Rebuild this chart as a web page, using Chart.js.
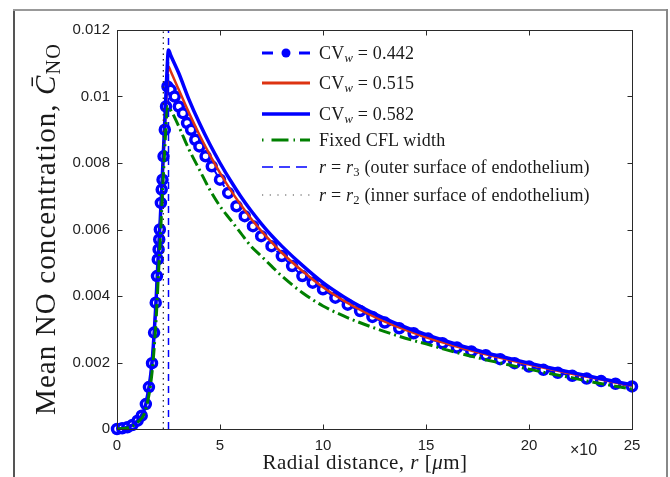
<!DOCTYPE html>
<html><head><meta charset="utf-8">
<script src="https://cdn.jsdelivr.net/npm/chart.js@4/dist/chart.umd.min.js"></script>
<style>
html,body{margin:0;padding:0;background:#fff;}
#wrap{position:relative;width:670px;height:477px;overflow:hidden;background:#fff;}
#c{position:absolute;left:0;top:0;}
.fl{position:absolute;left:13px;top:9px;width:2px;height:480px;background:#555;}
.ft{position:absolute;left:13px;top:9px;width:655px;height:2px;background:#999;}
.fr{position:absolute;left:666px;top:9px;width:2px;height:480px;background:#888;}
.serif{font-family:"Liberation Serif","Times New Roman",serif;color:#1a1a1a;}
#xt{position:absolute;left:165px;width:400px;top:452px;text-align:center;font-size:21px;line-height:21px;letter-spacing:0.5px;white-space:nowrap;}
#yt{position:absolute;width:440px;height:30px;line-height:30px;font-size:29px;letter-spacing:1.1px;text-align:center;white-space:nowrap;transform:rotate(-90deg);}
#x10{position:absolute;left:570px;top:441px;font-family:"Liberation Sans",Arial,sans-serif;font-size:16px;color:#222;}
.row{position:absolute;left:262px;height:22px;}
.row svg{position:absolute;left:0;top:5px;}
.row span{position:absolute;left:57px;top:0;line-height:22px;font-size:18px;letter-spacing:0.2px;white-space:nowrap;}
sub{font-size:70%;vertical-align:-0.25em;line-height:0;}
</style></head>
<body><div id="wrap">
<canvas id="c" width="670" height="477"></canvas>
<div class="fl"></div><div class="ft"></div><div class="fr"></div>
<div id="xt" class="serif">Radial distance, <i>r</i> [<i>μ</i>m]</div>
<div id="yt" class="serif">Mean NO concentration, <i>C&#772;</i><sub>NO</sub></div>
<div id="x10">×10</div>
<div class="row serif" style="top:42px"><svg width="48" height="12"><line x1="0" y1="6" x2="11" y2="6" stroke="#0000ff" stroke-width="3"/><circle cx="24" cy="6" r="4.5" fill="#0000ff"/><line x1="37" y1="6" x2="48" y2="6" stroke="#0000ff" stroke-width="3"/></svg><span>CV<sub><i>w</i></sub> = 0.442</span></div>
<div class="row serif" style="top:72px"><svg width="48" height="12"><line x1="0" y1="6" x2="48" y2="6" stroke="#dd3311" stroke-width="3"/></svg><span>CV<sub><i>w</i></sub> = 0.515</span></div>
<div class="row serif" style="top:103px"><svg width="48" height="12"><line x1="0" y1="6" x2="48" y2="6" stroke="#0000ff" stroke-width="3.5"/></svg><span>CV<sub><i>w</i></sub> = 0.582</span></div>
<div class="row serif" style="top:129px"><svg width="48" height="12"><line x1="0" y1="6" x2="48" y2="6" stroke="#008000" stroke-width="3" stroke-dasharray="1.5,8,17,5,1.5,5,12,0"/></svg><span>Fixed CFL width</span></div>
<div class="row serif" style="top:156px"><svg width="48" height="12"><line x1="0" y1="6" x2="48" y2="6" stroke="#0000ff" stroke-width="1.5" stroke-dasharray="11,6"/></svg><span><i>r</i> = <i>r</i><sub>3</sub> (outer surface of endothelium)</span></div>
<div class="row serif" style="top:184px"><svg width="48" height="12"><line x1="0" y1="6" x2="48" y2="6" stroke="#444" stroke-width="1.2" stroke-dasharray="1.2,6.5"/></svg><span><i>r</i> = <i>r</i><sub>2</sub> (inner surface of endothelium)</span></div>
</div>
<script>
// ---- data (x in units of 10 μm) ----
const rCirc = [0,0.25,0.5,0.75,1.0,1.2,1.4,1.55,1.7,1.8,1.88,1.94,1.98,2.02,2.05,2.08,2.13,2.17,2.21,2.26,2.32,2.38,2.45,
  2.6,2.8,3.0,3.2,3.4,3.6,3.8,4.0,4.3,4.6,5.0,5.4,5.8,6.2,6.6,7.0,7.5,8.0,8.5,9.0,9.5,10.0,10.6,11.2,11.8,12.4,13.0,13.7,14.4,
  15.1,15.8,16.5,17.2,17.9,18.6,19.3,20.0,20.7,21.4,22.1,22.8,23.5,24.2,25.0];
const cCirc = [0,0.00002,0.00005,0.00012,0.00025,0.0004,0.00075,0.00126,0.00198,0.0029,0.0038,0.0046,0.0051,0.0054,0.0057,0.006,0.0068,0.0072,0.0075,0.0082,0.009,0.0097,0.0103,
  0.0102,0.01,0.0097,0.0095,0.0092,0.009,0.0087,0.0085,0.0082,0.0079,0.0075,0.0071,0.0067,0.0064,0.0061,0.0058,0.0055,0.0052,0.0049,0.0046,0.0044,0.0042,0.00395,0.00374,0.00355,0.00337,0.0032,0.00303,0.00288,
  0.00272,0.00258,0.00245,0.00233,0.00222,0.0021,0.00198,0.00188,0.00178,0.00169,0.0016,0.00152,0.00144,0.00136,0.00128];

const rLine = [0,0.5,1.0,1.4,1.7,1.9,2.0,2.1,2.2,2.3,2.4,2.5,2.6,3,3.5,4,4.5,5,5.5,6,6.5,7,7.5,8,9,10,11,12,13,14,15,16,17,18,19,20,21,22,23,24,25];
const cRed  = [0,0.00005,0.00025,0.00075,0.002,0.0039,0.0052,0.0063,0.0075,0.0088,0.01,0.0109,0.01077,0.0102,0.0095,0.00885,0.00825,0.0077,0.0072,0.00675,0.00633,0.00596,0.00562,0.0053,0.00475,0.00426,0.00386,0.00352,0.00323,0.00298,0.00276,0.00257,0.00239,0.00223,0.00208,0.00194,0.0018,0.00167,0.00155,0.00142,0.0013];
const cBlue = [0,0.00005,0.00025,0.00075,0.002,0.0039,0.0052,0.0063,0.0076,0.009,0.0104,0.0114,0.01125,0.0107,0.0099,0.0092,0.00857,0.008,0.00748,0.007,0.00657,0.00618,0.00582,0.0055,0.00492,0.0044,0.00398,0.00362,0.00332,0.00306,0.00284,0.00264,0.00245,0.00228,0.00213,0.00198,0.00184,0.00171,0.00158,0.00145,0.00133];

const rGreen = [0,0.5,1.0,1.4,1.7,1.9,2.0,2.1,2.2,2.3,2.4,2.47,2.6,3,3.5,4,4.5,5,5.5,6,6.5,7,7.5,8,9,10,11,12,13,14,15,16,17,18,19,20,21,22,23,24,25];
const cGreen = [0,0.00003,0.0002,0.0006,0.0017,0.0033,0.0045,0.0057,0.007,0.0082,0.0093,0.0097,0.0096,0.0091,0.0084,0.0078,0.0072,0.0067,0.0063,0.0059,0.0055,0.0052,0.0049,0.0046,0.0041,0.0037,0.0034,0.00315,0.00293,0.00273,0.00256,0.00238,0.00222,0.00207,0.00193,0.0018,0.00167,0.00155,0.00142,0.00131,0.0012];

const r3 = 2.5, r2 = 2.25;
const xTicks = [0,5,10,15,20,25];
const xTickLabels = ['0','5','10','15','20','25'];
const yTicks = [0,0.002,0.004,0.006,0.008,0.01,0.012];
const yTickLabels = ['0','0.002','0.004','0.006','0.008','0.01','0.012'];

const pts = (xs, ys) => xs.map((x,i)=>({x, y: ys[i]}));

// position y-title (rotated)
(function(){const yt=document.getElementById('yt');const cx=45, cy=229;yt.style.left=(cx-220)+'px';yt.style.top=(cy-15)+'px';})();

const framePlugin = {
  id:'framePlugin',
  afterDatasetsDraw(chart){
    const {ctx, chartArea:a, scales:{x,y}} = chart;
    ctx.save();
    ctx.strokeStyle='#2a2a2a'; ctx.lineWidth=1;
    const L=Math.round(a.left)+0.5, R=Math.round(a.right)+0.5, T=Math.round(a.top)+0.5, B=Math.round(a.bottom)+0.5;
    ctx.strokeRect(L, T, R-L, B-T);
    ctx.beginPath();
    x.ticks.forEach(t=>{const p=Math.round(x.getPixelForValue(t.value))+0.5; ctx.moveTo(p,B); ctx.lineTo(p,B-5); ctx.moveTo(p,T); ctx.lineTo(p,T+5);});
    y.ticks.forEach(t=>{const p=Math.round(y.getPixelForValue(t.value))+0.5; ctx.moveTo(L,p); ctx.lineTo(L+5,p); ctx.moveTo(R,p); ctx.lineTo(R-5,p);});
    ctx.stroke();
    ctx.restore();
  }
};

const tickFont = {family:'"Liberation Sans", Arial, sans-serif', size:15};

new Chart(document.getElementById('c'), {
  type:'line',
  data:{datasets:[
    {label:'r3', data:pts([r3,r3],[0,0.012]), borderColor:'#0000ff', borderWidth:1.5, borderDash:[7,5], pointRadius:0, order:0},
    {label:'r2', data:pts([r2,r2],[0,0.012]), borderColor:'#333', borderWidth:1.3, borderDash:[1.5,4], pointRadius:0, order:0},
    {label:'Fixed CFL width', data:pts(rGreen,cGreen), borderColor:'#008000', borderWidth:3, borderDash:[12,4,2,4], pointRadius:0, cubicInterpolationMode:'monotone', order:1},
    {label:'CVw = 0.582', data:pts(rLine,cBlue), borderColor:'#0000ff', borderWidth:3.5, pointRadius:0, cubicInterpolationMode:'monotone', order:2},
    {label:'CVw = 0.515', data:pts(rLine,cRed), borderColor:'#dd3311', borderWidth:2.5, pointRadius:0, cubicInterpolationMode:'monotone', order:3},
    {label:'CVw = 0.442', data:pts(rCirc,cCirc), borderColor:'#0000ff', borderWidth:2, borderDash:[8,5], pointRadius:4.5, pointBorderWidth:3.5, pointBackgroundColor:'#ffffff', pointBorderColor:'#0000ff', cubicInterpolationMode:'monotone', order:4, clip:8}
  ]},
  options:{
    responsive:false, animation:false, devicePixelRatio:1,
    layout:{padding:{left:0,right:38,top:30,bottom:0}},
    plugins:{legend:{display:false}, tooltip:{enabled:false}},
    scales:{
      x:{type:'linear', min:0, max:25,
         grid:{display:false, drawTicks:false}, border:{display:false},
         afterBuildTicks:s=>{s.ticks = xTicks.map(v=>({value:v}));},
         afterFit:s=>{s.height=48;},
         ticks:{font:tickFont, color:'#222', padding:8, maxRotation:0, autoSkip:false,
                callback:(v)=>{const i=xTicks.indexOf(v); return i>=0?xTickLabels[i]:'';}}},
      y:{type:'linear', min:0, max:0.012,
         grid:{display:false, drawTicks:false}, border:{display:false},
         afterBuildTicks:s=>{s.ticks = yTicks.map(v=>({value:v}));},
         afterFit:s=>{s.width=117;},
         ticks:{font:tickFont, color:'#222', padding:7, autoSkip:false,
                callback:(v)=>{const i=yTicks.findIndex(t=>Math.abs(t-v)<1e-9); return i>=0?yTickLabels[i]:'';}}}
    }
  },
  plugins:[framePlugin]
});
</script>
</body></html>
